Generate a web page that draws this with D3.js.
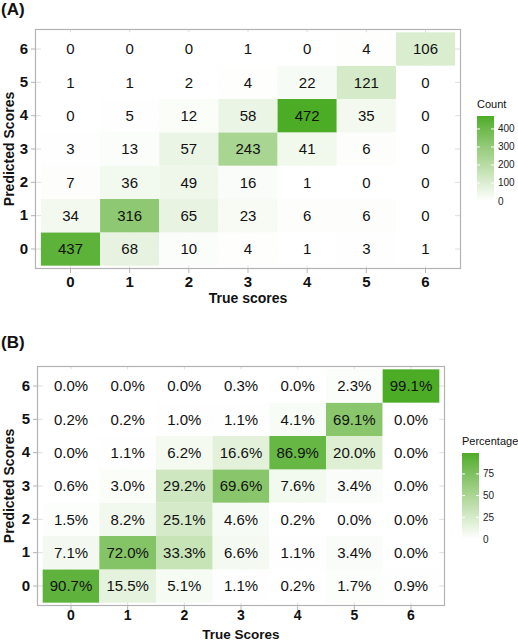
<!DOCTYPE html>
<html>
<head>
<meta charset="utf-8">
<script src="https://cdn.jsdelivr.net/npm/d3@7"></script>
<style>
  body { margin: 0; background: #fff; }
  svg { font-family: "Liberation Sans", Arial, sans-serif; display: block; }
</style>
</head>
<body>
<svg id="chart" width="518" height="641"></svg>
<script>
// scores on both axes
var scores = ["0", "1", "2", "3", "4", "5", "6"];

// counts, one row per predicted score (0 at bottom), columns = true score 0..6
var countRows = [
  [437, 68, 10, 4, 1, 3, 1],
  [34, 316, 65, 23, 6, 6, 0],
  [7, 36, 49, 16, 1, 0, 0],
  [3, 13, 57, 243, 41, 6, 0],
  [0, 5, 12, 58, 472, 35, 0],
  [1, 1, 2, 4, 22, 121, 0],
  [0, 0, 0, 1, 0, 4, 106]
];

// percentages, same layout
var pctRows = [
  [90.7, 15.5, 5.1, 1.1, 0.2, 1.7, 0.9],
  [7.1, 72.0, 33.3, 6.6, 1.1, 3.4, 0.0],
  [1.5, 8.2, 25.1, 4.6, 0.2, 0.0, 0.0],
  [0.6, 3.0, 29.2, 69.6, 7.6, 3.4, 0.0],
  [0.0, 1.1, 6.2, 16.6, 86.9, 20.0, 0.0],
  [0.2, 0.2, 1.0, 1.1, 4.1, 69.1, 0.0],
  [0.0, 0.0, 0.0, 0.3, 0.0, 2.3, 99.1]
];

var countTicks = [0, 100, 200, 300, 400];
var pctTicks = [0, 25, 50, 75];

var svg = d3.select("#chart");
var highColor = "#4DAC26";

var flatten = function(rows) {
  var out = [];
  rows.forEach(function(r, p) {
    r.forEach(function(v, t) { out.push({pred: scores[p], truth: scores[t], value: v}); });
  });
  return out;
};

var drawPanel = function(opt) {
  var cells = flatten(opt.rows);
  var maxV = d3.max(cells, function(d) { return d.value; });

  var x = d3.scaleBand().domain(scores).range([opt.left, opt.right]).paddingInner(0).paddingOuter(0.1);
  var y = d3.scaleBand().domain(scores.slice().reverse()).range([opt.top, opt.bottom]).paddingInner(0).paddingOuter(0.1);
  var color = d3.scaleLinear().domain([0, maxV]).range(["white", highColor]).interpolate(d3.interpolateLab);

  var g = svg.append("g");

  // panel background + grid
  g.append("rect").attr("x", opt.left).attr("y", opt.top)
    .attr("width", opt.right - opt.left).attr("height", opt.bottom - opt.top)
    .attr("fill", "white");

  g.selectAll("line.vg").data(scores).enter().append("line")
    .attr("x1", function(d) { return x(d) + x.bandwidth() / 2; })
    .attr("x2", function(d) { return x(d) + x.bandwidth() / 2; })
    .attr("y1", opt.top).attr("y2", opt.bottom)
    .attr("stroke", "#dedede").attr("stroke-width", 1);
  g.selectAll("line.hg").data(scores).enter().append("line")
    .attr("y1", function(d) { return y(d) + y.bandwidth() / 2; })
    .attr("y2", function(d) { return y(d) + y.bandwidth() / 2; })
    .attr("x1", opt.left).attr("x2", opt.right)
    .attr("stroke", "#dedede").attr("stroke-width", 1);

  // tiles
  g.selectAll("rect.tile").data(cells).enter().append("rect")
    .attr("x", function(d) { return x(d.truth); })
    .attr("y", function(d) { return y(d.pred); })
    .attr("width", x.bandwidth())
    .attr("height", y.bandwidth())
    .attr("fill", function(d) { return color(d.value); });

  g.selectAll("text.cell").data(cells).enter().append("text")
    .attr("x", function(d) { return x(d.truth) + x.bandwidth() / 2; })
    .attr("y", function(d) { return y(d.pred) + y.bandwidth() / 2; })
    .attr("dy", "0.36em")
    .attr("text-anchor", "middle")
    .style("font-size", "15px")
    .attr("fill", "#111")
    .text(opt.format);

  // border
  g.append("rect").attr("x", opt.left + 0.5).attr("y", opt.top + 0.5)
    .attr("width", opt.right - opt.left - 1).attr("height", opt.bottom - opt.top - 1)
    .attr("fill", "none").attr("stroke", "#b3b3b3").attr("stroke-width", 1.2);

  // axes
  var xAxis = d3.axisBottom(x).tickSize(4).tickPadding(opt.xPad);
  var xg = g.append("g").attr("transform", "translate(0," + opt.bottom + ")").call(xAxis);
  var yAxis = d3.axisLeft(y).tickSize(4).tickPadding(3);
  var yg = g.append("g").attr("transform", "translate(" + opt.left + ",0)").call(yAxis);
  [xg, yg].forEach(function(a) {
    a.select(".domain").remove();
    a.selectAll(".tick line").attr("stroke", "#b3b3b3");
    a.selectAll(".tick text").attr("fill", "#111").style("font-size", "15px")
      .style("font-weight", "bold").style("font-family", "Liberation Sans, Arial, sans-serif");
  });
  xg.selectAll(".tick text").style("font-size", opt.xTickSize);

  g.append("text").attr("x", (opt.left + opt.right) / 2).attr("y", opt.xTitleY)
    .attr("text-anchor", "middle").style("font-size", opt.xTitleSize).style("font-weight", "bold")
    .attr("fill", "#111").text(opt.xTitle);
  g.append("text").attr("transform", "translate(14," + (opt.top + opt.bottom) / 2 + ") rotate(-90)")
    .attr("text-anchor", "middle").style("font-size", "14px").style("font-weight", "bold")
    .attr("fill", "#111").text("Predicted Scores");

  g.append("text").attr("x", 1).attr("y", opt.tagY)
    .style("font-size", "17px").style("font-weight", "bold").attr("fill", "#111")
    .text(opt.tag);

  // legend colourbar
  var lg = svg.append("g");
  var barScale = d3.scaleLinear().domain([0, maxV]).range([opt.barBottom, opt.barBottom - opt.barHeight]);
  var gradId = "grad" + opt.tag.replace(/\W/g, "");
  var grad = svg.append("defs").append("linearGradient").attr("id", gradId)
    .attr("x1", 0).attr("x2", 0).attr("y1", 1).attr("y2", 0);
  d3.range(0, 1.0001, 0.1).forEach(function(t) {
    grad.append("stop").attr("offset", t).attr("stop-color", color(t * maxV));
  });
  lg.append("text").attr("x", opt.barX).attr("y", opt.barBottom - opt.barHeight - 8)
    .style("font-size", "11px").attr("fill", "#111").text(opt.legendTitle);
  lg.append("rect").attr("x", opt.barX).attr("y", barScale(maxV))
    .attr("width", 17).attr("height", opt.barHeight)
    .attr("fill", "url(#" + gradId + ")");
  lg.selectAll("line.lt1").data(opt.legendTicks).enter().append("line")
    .attr("x1", opt.barX).attr("x2", opt.barX + 3)
    .attr("y1", function(d) { return barScale(d); }).attr("y2", function(d) { return barScale(d); })
    .attr("stroke", "white");
  lg.selectAll("line.lt2").data(opt.legendTicks).enter().append("line")
    .attr("x1", opt.barX + 14).attr("x2", opt.barX + 17)
    .attr("y1", function(d) { return barScale(d); }).attr("y2", function(d) { return barScale(d); })
    .attr("stroke", "white");
  lg.selectAll("text.lab").data(opt.legendTicks).enter().append("text")
    .attr("x", opt.barX + 21).attr("y", function(d) { return barScale(d); })
    .attr("dy", "0.35em").style("font-size", "10px").attr("fill", "#222")
    .text(function(d) { return d; });
};

drawPanel({
  rows: countRows, left: 35, right: 461, top: 29, bottom: 269,
  format: function(d) { return d.value; },
  xTitle: "True scores", xTitleY: 303, xTitleSize: "14px", xPad: 3, xTickSize: "15px",
  tag: "(A)", tagY: 15,
  legendTitle: "Count", legendTicks: countTicks,
  barX: 477, barBottom: 201, barHeight: 85
});

drawPanel({
  rows: pctRows, left: 37, right: 445, top: 366, bottom: 606,
  format: function(d) { return d.value.toFixed(1) + "%"; },
  xTitle: "True Scores", xTitleY: 639, xTitleSize: "13.5px", xPad: 0, xTickSize: "14px",
  tag: "(B)", tagY: 348,
  legendTitle: "Percentage", legendTicks: pctTicks,
  barX: 462, barBottom: 539, barHeight: 86
});
</script>
</body>
</html>
